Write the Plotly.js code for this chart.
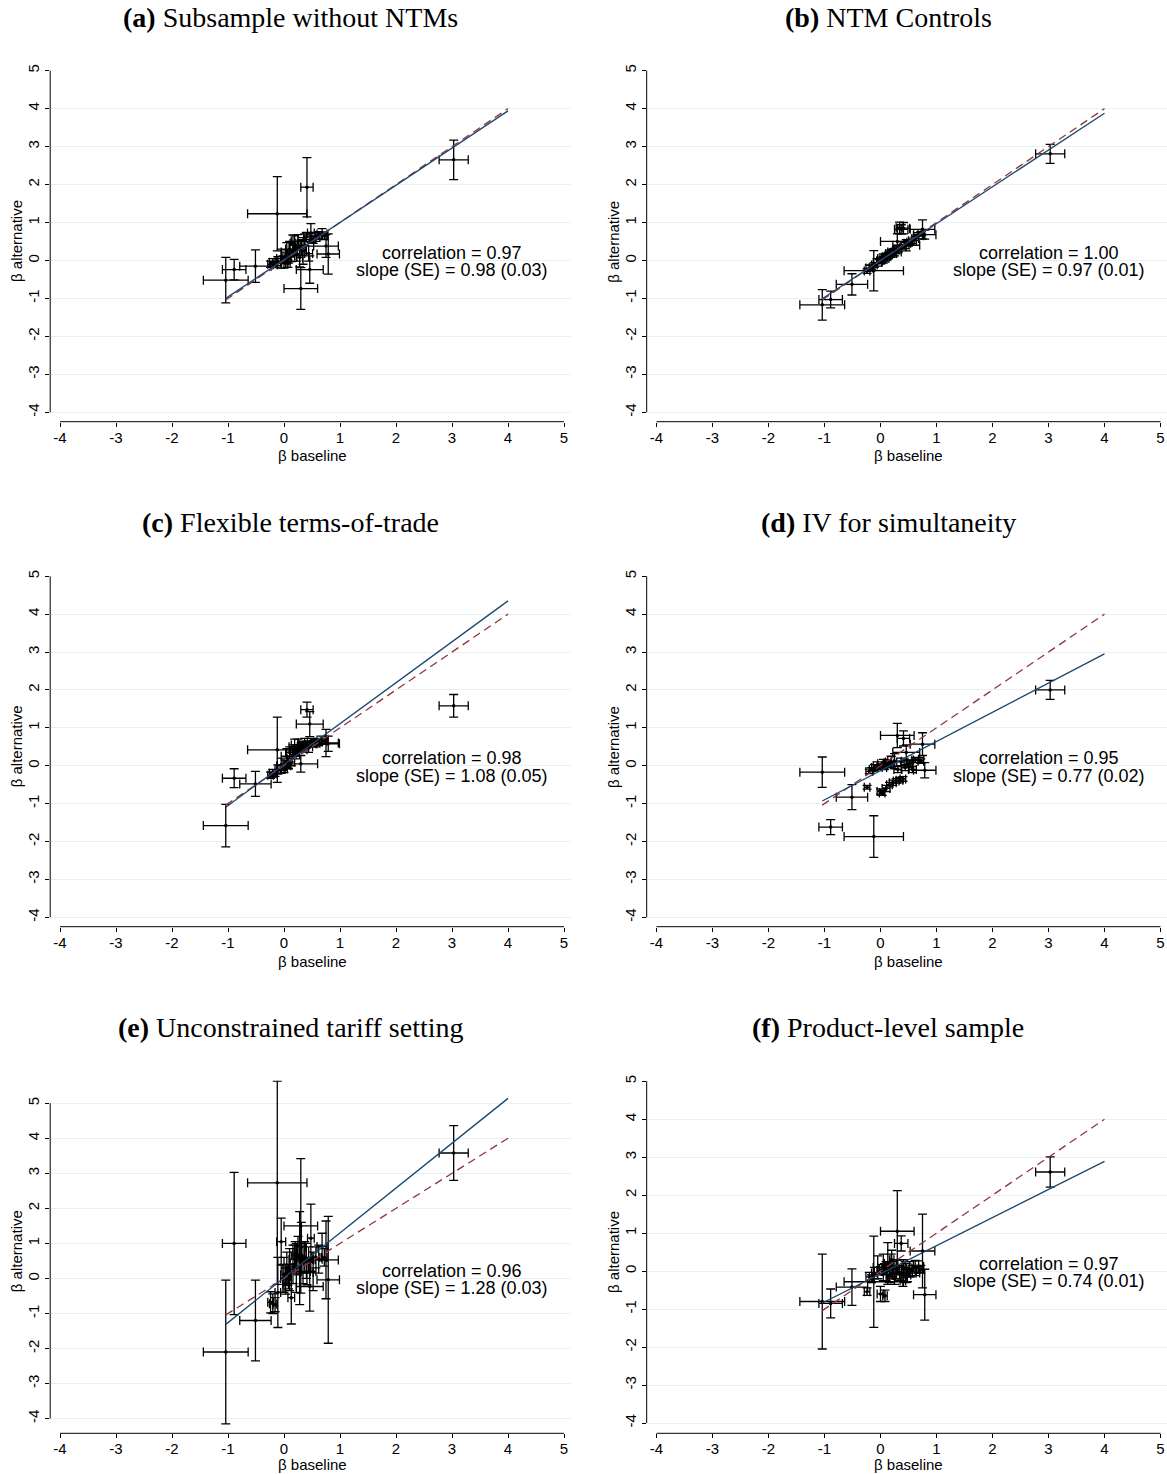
<!DOCTYPE html>
<html>
<head>
<meta charset="utf-8">
<script src="https://cdn.plot.ly/plotly-3.0.1.min.js"></script>
<style>
  html, body { margin: 0; padding: 0; background: #ffffff; }
  #chart { width: 1167px; height: 1474px; }
</style>
</head>
<body>
<div id="chart"></div>
<script>
// ---------------------------------------------------------------------------
// Data: industry-level elasticities, baseline vs. alternative specifications
// ---------------------------------------------------------------------------

// Baseline estimates (shared by every panel) and their 95% CI half-widths
const betaBaseline = [-1.04, -0.89, -0.51, -0.12, 0.41, 3.03, 0.75, 0.79, 0.30, 0.46,
  -0.24, -0.20, -0.16, -0.11, -0.05, -0.02, 0.00, 0.03, 0.05, 0.08,
  0.10, 0.13, 0.16, 0.19, 0.22, 0.25, 0.28, 0.31, 0.34, 0.37,
  0.40, 0.44, 0.48, 0.52, 0.57, 0.62, 0.68, 0.72, 0.07, 0.20];
const betaBaselineCI = [0.40, 0.21, 0.28, 0.53, 0.11, 0.26, 0.22, 0.20, 0.30, 0.24,
  0.05, 0.06, 0.04, 0.05, 0.08, 0.04, 0.06, 0.05, 0.10, 0.04,
  0.07, 0.06, 0.05, 0.10, 0.06, 0.12, 0.05, 0.07, 0.06, 0.12,
  0.05, 0.07, 0.06, 0.05, 0.07, 0.06, 0.09, 0.05, 0.04, 0.04];

// (a) Subsample without NTMs
const altSubsample = [-0.52, -0.24, -0.15, 1.23, 1.93, 2.65, 0.38, 0.17, -0.74, -0.24,
  -0.10, -0.05, -0.12, -0.02, 0.05, 0.02, -0.05, 0.10, 0.22, 0.05,
  0.30, 0.12, 0.45, 0.40, 0.18, 0.50, 0.08, 0.33, 0.25, 0.55,
  0.62, 0.18, 0.72, 0.55, 0.62, 0.66, 0.70, 0.65, -0.08, 0.28];
const altSubsampleCI = [0.60, 0.27, 0.43, 0.98, 0.78, 0.52, 0.30, 0.53, 0.55, 0.36,
  0.08, 0.10, 0.07, 0.12, 0.25, 0.10, 0.15, 0.18, 0.25, 0.12,
  0.20, 0.15, 0.22, 0.25, 0.20, 0.18, 0.25, 0.20, 0.35, 0.15,
  0.12, 0.20, 0.25, 0.10, 0.12, 0.10, 0.14, 0.10, 0.10, 0.15];

// (b) NTM Controls
const altNTM = [-1.17, -1.03, -0.63, -0.27, 0.85, 2.81, 0.82, 0.68, 0.50, 0.40,
  -0.28, -0.20, -0.18, -0.12, -0.05, -0.03, 0.00, 0.02, 0.05, 0.08,
  0.10, 0.12, 0.15, 0.18, 0.20, 0.22, 0.27, 0.30, 0.86, 0.82,
  0.36, 0.40, 0.45, 0.48, 0.52, 0.58, 0.65, 0.70, 0.06, 0.20];
const altNTMCI = [0.40, 0.22, 0.28, 0.53, 0.15, 0.25, 0.25, 0.12, 0.20, 0.15,
  0.06, 0.08, 0.05, 0.06, 0.10, 0.05, 0.08, 0.06, 0.12, 0.05,
  0.08, 0.07, 0.06, 0.10, 0.08, 0.10, 0.08, 0.08, 0.15, 0.12,
  0.06, 0.08, 0.07, 0.06, 0.07, 0.06, 0.08, 0.06, 0.05, 0.05];

// (c) Flexible terms-of-trade
const altFlexToT = [-1.58, -0.33, -0.48, 0.42, 1.48, 1.58, 0.60, 0.58, 0.05, 1.10,
  -0.25, -0.20, -0.22, -0.10, 0.00, -0.05, -0.08, 0.05, 0.25, 0.00,
  0.35, 0.10, 0.40, 0.50, 0.30, 0.55, 0.45, 0.50, 0.55, 0.60,
  0.55, 0.50, 0.62, 0.58, 0.60, 0.62, 0.68, 0.65, 0.02, 0.35];
const altFlexToTCI = [0.56, 0.25, 0.33, 0.86, 0.20, 0.30, 0.36, 0.20, 0.22, 0.33,
  0.08, 0.10, 0.06, 0.12, 0.20, 0.08, 0.10, 0.10, 0.20, 0.08,
  0.15, 0.10, 0.15, 0.20, 0.12, 0.15, 0.10, 0.12, 0.10, 0.12,
  0.08, 0.15, 0.10, 0.08, 0.10, 0.08, 0.10, 0.08, 0.08, 0.10];

// (d) IV for simultaneity
const altIV = [-0.17, -1.62, -0.83, -1.87, 0.72, 2.00, 0.57, -0.12, 0.80, 0.35,
  -0.57, -0.15, -0.10, -0.05, 0.00, -0.02, -0.68, -0.72, 0.05, 0.02,
  -0.60, 0.08, -0.50, 0.10, -0.45, 0.12, -0.40, -0.10, -0.38, 0.10,
  -0.35, -0.05, 0.05, 0.08, -0.10, 0.15, 0.15, 0.12, -0.05, 0.05];
const altIVCI = [0.40, 0.20, 0.33, 0.55, 0.20, 0.25, 0.30, 0.20, 0.32, 0.20,
  0.05, 0.06, 0.05, 0.08, 0.10, 0.05, 0.07, 0.06, 0.12, 0.05,
  0.08, 0.07, 0.06, 0.15, 0.07, 0.20, 0.06, 0.08, 0.07, 0.10,
  0.06, 0.08, 0.10, 0.06, 0.08, 0.06, 0.07, 0.06, 0.05, 0.06];

// (e) Unconstrained tariff setting
const altUnconstrained = [-2.10, 1.00, -1.20, 2.73, 0.17, 3.58, 0.53, -0.04, 1.50, -0.23,
  -0.68, -0.72, -0.75, -0.40, 1.05, 0.00, 0.10, -0.15, 0.30, 0.05,
  0.25, -0.55, 0.40, 0.55, 0.30, 0.65, 0.58, 0.90, 0.45, 0.60,
  0.50, 0.55, 1.15, 0.20, 0.60, 0.55, 0.91, 0.60, 0.10, 0.70];
const altUnconstrainedCI = [2.05, 2.03, 1.15, 2.90, 0.35, 0.78, 1.11, 1.81, 1.92, 0.70,
  0.30, 0.28, 0.20, 1.00, 0.67, 0.40, 0.50, 0.30, 0.45, 0.35,
  0.60, 0.75, 0.55, 0.40, 0.70, 0.55, 1.33, 0.70, 0.60, 0.45,
  0.50, 0.35, 0.97, 0.55, 0.30, 0.40, 0.38, 0.25, 0.30, 0.35];

// (f) Product-level sample
const altProduct = [-0.80, -0.85, -0.42, -0.28, 0.10, 2.61, 0.53, -0.62, 1.05, -0.05,
  -0.54, -0.15, -0.20, -0.05, 0.10, 0.00, -0.60, 0.05, 0.10, -0.65,
  0.00, 0.20, -0.10, 0.15, 0.05, -0.20, 0.05, 0.10, -0.05, 0.73,
  -0.25, 0.05, -0.10, 0.05, 0.00, 0.08, 0.12, 0.05, 0.05, 0.30];
const altProductCI = [1.25, 0.38, 0.48, 1.20, 0.20, 0.40, 0.97, 0.67, 1.07, 0.25,
  0.10, 0.12, 0.10, 0.15, 0.30, 0.10, 0.20, 0.12, 0.35, 0.15,
  0.25, 0.55, 0.20, 0.30, 0.20, 0.15, 0.25, 0.20, 0.20, 0.20,
  0.15, 0.20, 0.18, 0.20, 0.15, 0.20, 0.15, 0.10, 0.15, 0.25];

// Panel labels and fit statistics
const panelLetters = ['(a)', '(b)', '(c)', '(d)', '(e)', '(f)'];
const panelNames = ['Subsample without NTMs', 'NTM Controls', 'Flexible terms-of-trade',
  'IV for simultaneity', 'Unconstrained tariff setting', 'Product-level sample'];
const correlations = ['0.97', '1.00', '0.98', '0.95', '0.96', '0.97'];
const fitSlopes = [0.98, 0.97, 1.08, 0.77, 1.28, 0.74];
const fitSlopeSE = ['0.03', '0.01', '0.05', '0.02', '0.03', '0.01'];
const fitIntercepts = [0.02, 0.00, 0.03, -0.13, 0.02, -0.07];
const lineEndX = 4;

// Axis ticks
const tickValues = [-4, -3, -2, -1, 0, 1, 2, 3, 4, 5];
const tickLabels = ['-4', '-3', '-2', '-1', '0', '1', '2', '3', '4', '5'];

const altSeries = [altSubsample, altNTM, altFlexToT, altIV, altUnconstrained, altProduct];
const altSeriesCI = [altSubsampleCI, altNTMCI, altFlexToTCI, altIVCI, altUnconstrainedCI, altProductCI];

// ---------------------------------------------------------------------------
// Page geometry (pixels)
// ---------------------------------------------------------------------------
const W = 1167, H = 1474;
const cols = [
  { left: 50.2, right: 570.5, titleX: 290, yTitleX: 16.5, xTitleX: 312 },
  { left: 646.7, right: 1167, titleX: 888, yTitleX: 613.3, xTitleX: 908.5 }
];
const rows = [
  { top: 69.9, bottom: 421.7, titleY: 17, yTitleY: 241.5, xTitleY: 455 },
  { top: 575.5, bottom: 926.7, titleY: 522.5, yTitleY: 746.8, xTitleY: 961 },
  { top: 1080.5, bottom: 1433.3, titleY: 1027.5, yTitleY: 1251.7, xTitleY: 1464.5 }
];
const xRange = [-4.175, 5.116];
const yRanges = [[-4.248, 5.02], [-4.248, 5.02], [-4.248, 5.02], [-4.248, 5.02], [-4.42, 5.65], [-4.27, 5.02]];

const NAVY = '#1a476f';
const MAROON = '#90353b';
const GRID = '#e8f0f2';
const SANS = 'Liberation Sans, Arial, sans-serif';
const SERIF = 'Liberation Serif, Times New Roman, serif';
const TICK_SIZE = 15;

const px = v => v / W;
const py = v => 1 - v / H;

const traces = [];
const shapes = [];
const annotations = [];
const layout = {
  width: W, height: H,
  margin: { l: 0, r: 0, t: 0, b: 0, pad: 0 },
  paper_bgcolor: '#ffffff',
  plot_bgcolor: '#ffffff',
  showlegend: false,
  font: { family: SANS, color: '#000000' }
};

const xMin = Math.min(...betaBaseline);

for (let i = 0; i < 6; i++) {
  const c = cols[i % 2];
  const r = rows[Math.floor(i / 2)];
  const sfx = i === 0 ? '' : String(i + 1);
  const xa = 'x' + sfx, ya = 'y' + sfx;

  layout['xaxis' + sfx] = {
    domain: [px(c.left), px(c.right)],
    range: xRange,
    anchor: ya,
    tickmode: 'array', tickvals: tickValues, ticktext: tickLabels,
    ticks: 'outside', ticklen: 4, tickwidth: 1, tickcolor: '#000',
    ticklabelstandoff: -2,
    tickfont: { family: SANS, size: TICK_SIZE, color: '#000' },
    showgrid: false, zeroline: false, showline: false,
    fixedrange: true
  };
  layout['yaxis' + sfx] = {
    domain: [py(r.bottom), py(r.top)],
    range: yRanges[i],
    anchor: xa,
    tickmode: 'array', tickvals: tickValues, ticktext: tickLabels,
    ticks: 'outside', ticklen: 4, tickwidth: 1, tickcolor: '#000',
    tickangle: -90,
    tickfont: { family: SANS, size: TICK_SIZE, color: '#000' },
    showgrid: true, gridcolor: GRID, gridwidth: 1,
    zeroline: false, showline: false,
    fixedrange: true
  };

  // axis lines spanning the labelled range only
  shapes.push({ type: 'line', xref: xa, yref: ya + ' domain', x0: -4, x1: 5, y0: 0, y1: 0,
    line: { color: '#000', width: 1 } });
  shapes.push({ type: 'line', xref: xa + ' domain', yref: ya, x0: 0, x1: 0, y0: -4, y1: 5,
    line: { color: '#000', width: 1 } });

  // estimates with confidence intervals in both directions
  traces.push({
    type: 'scatter', mode: 'markers', xaxis: xa, yaxis: ya,
    x: betaBaseline, y: altSeries[i],
    marker: { color: '#000', size: 3.5 },
    error_x: { type: 'data', array: betaBaselineCI, symmetric: true, color: '#000', thickness: 1.3, width: 4.5 },
    error_y: { type: 'data', array: altSeriesCI[i], symmetric: true, color: '#000', thickness: 1.3, width: 4.5 },
    hoverinfo: 'skip'
  });

  // 45-degree reference line
  traces.push({
    type: 'scatter', mode: 'lines', xaxis: xa, yaxis: ya,
    x: [xMin, lineEndX], y: [xMin, lineEndX],
    line: { color: MAROON, width: 1.3, dash: '8px,5px' },
    hoverinfo: 'skip'
  });

  // fitted line
  traces.push({
    type: 'scatter', mode: 'lines', xaxis: xa, yaxis: ya,
    x: [xMin, lineEndX],
    y: [fitIntercepts[i] + fitSlopes[i] * xMin, fitIntercepts[i] + fitSlopes[i] * lineEndX],
    line: { color: NAVY, width: 1.3 },
    hoverinfo: 'skip'
  });

  // fit statistics
  annotations.push({
    xref: xa, yref: ya, x: 3, y: 0, yshift: 7.5, showarrow: false,
    text: 'correlation = ' + correlations[i],
    font: { family: SANS, size: 18, color: '#000' }, xanchor: 'center', yanchor: 'middle'
  });
  annotations.push({
    xref: xa, yref: ya, x: 3, y: 0, yshift: -10, showarrow: false,
    text: 'slope (SE) = ' + fitSlopes[i].toFixed(2) + ' (' + fitSlopeSE[i] + ')',
    font: { family: SANS, size: 18, color: '#000' }, xanchor: 'center', yanchor: 'middle'
  });

  // panel title
  annotations.push({
    xref: 'paper', yref: 'paper', x: px(c.titleX), y: py(r.titleY), showarrow: false,
    text: '<b>' + panelLetters[i] + '</b> ' + panelNames[i],
    font: { family: SERIF, size: 28, color: '#000' }, xanchor: 'center', yanchor: 'middle'
  });

  // axis titles
  annotations.push({
    xref: 'paper', yref: 'paper', x: px(c.yTitleX), y: py(r.yTitleY), showarrow: false,
    text: 'β alternative', textangle: -90, borderpad: 0,
    font: { family: SANS, size: 15, color: '#000' }, xanchor: 'center', yanchor: 'middle'
  });
  annotations.push({
    xref: 'paper', yref: 'paper', x: px(c.xTitleX), y: py(r.xTitleY), showarrow: false,
    text: 'β baseline', borderpad: 0,
    font: { family: SANS, size: 15, color: '#000' }, xanchor: 'center', yanchor: 'middle'
  });
}

layout.shapes = shapes;
layout.annotations = annotations;

Plotly.newPlot('chart', traces, layout, { staticPlot: true, displayModeBar: false });
</script>
</body>
</html>
